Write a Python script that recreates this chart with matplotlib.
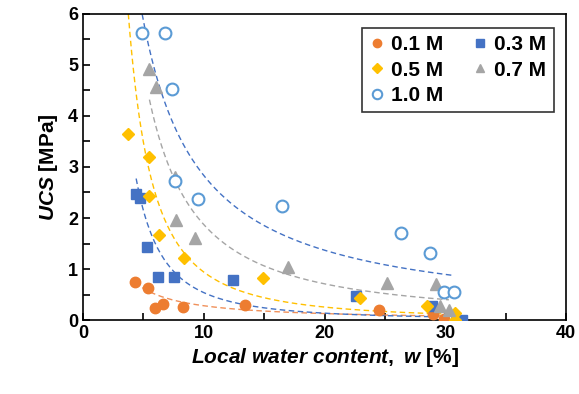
import numpy as np
import matplotlib
matplotlib.use("Agg")
import matplotlib.pyplot as plt

plt.rcParams["font.family"] = "Liberation Sans"
plt.rcParams["font.weight"] = "bold"
plt.rcParams["mathtext.fontset"] = "custom"
plt.rcParams["mathtext.it"] = "Liberation Sans:italic:bold"
plt.rcParams["mathtext.rm"] = "Liberation Sans:bold"

# data
x_01 = [4.3, 5.4, 6.0, 6.6, 8.3, 13.4, 24.5, 29.0, 29.9]
y_01 = [0.75, 0.62, 0.23, 0.31, 0.26, 0.29, 0.20, 0.11, 0.01]
x_03 = [4.4, 4.7, 5.3, 6.2, 7.5, 12.4, 22.6, 28.9, 31.4]
y_03 = [2.48, 2.40, 1.44, 0.85, 0.84, 0.78, 0.47, 0.27, 0.0]
x_05 = [3.75, 5.5, 5.5, 6.3, 8.4, 14.9, 22.9, 28.5, 30.8, 30.8]
y_05 = [3.64, 3.20, 2.43, 1.67, 1.21, 0.83, 0.43, 0.28, 0.14, 0.0]
x_07 = [5.5, 6.05, 7.6, 7.7, 9.3, 17.0, 25.2, 29.2, 29.6, 30.3]
y_07 = [4.93, 4.56, 2.81, 1.96, 1.60, 1.03, 0.72, 0.71, 0.27, 0.20]
x_10 = [4.9, 6.8, 7.35, 7.6, 9.55, 16.5, 26.3, 28.7, 29.9, 30.7]
y_10 = [5.62, 5.62, 4.52, 2.73, 2.37, 2.24, 1.70, 1.31, 0.54, 0.54]

# power-law trend lines (a * x^b)
fit_a = {"0.1 M": 3.95, "0.3 M": 53.7, "0.5 M": 73.0, "0.7 M": 47.0, "1.0 M": 31.8}
fit_b = {"0.1 M": -1.15, "0.3 M": -2.0, "0.5 M": -1.89, "0.7 M": -1.40, "1.0 M": -1.05}

fig = plt.figure(figsize=(5.79, 3.94), dpi=100)
ax = fig.add_axes([0.1434, 0.1878, 0.8341, 0.7767])

series = [
    ("0.1 M", x_01, y_01, dict(marker="o", color="#ED7D31", ms=7.5), "#F0905A"),
    ("0.3 M", x_03, y_03, dict(marker="s", color="#4472C4", ms=7.5), "#4472C4"),
    ("0.5 M", x_05, y_05, dict(marker="D", color="#FFC000", ms=6.2), "#FFC000"),
    ("0.7 M", x_07, y_07, dict(marker="^", color="#A5A5A5", ms=8), "#A5A5A5"),
    ("1.0 M", x_10, y_10, dict(marker="o", mfc="white", mec="#5B9BD5", mew=1.5, ms=8.5), "#4472C4"),
]

handles = {}
for name, xs, ys, style, lc in series:
    xx = np.linspace(min(xs), max(xs), 200)
    ax.plot(xx, fit_a[name] * xx ** fit_b[name], ls=(0, (4, 2.5)), color=lc, lw=1.0, zorder=2)
    h, = ax.plot(xs, ys, ls="none", label=name, zorder=3, **style)
    handles[name] = h

ax.set_xlim(0, 40)
ax.set_ylim(0, 6)
ax.set_xticks([0, 10, 20, 30, 40])
ax.set_xticks(np.arange(0, 41, 5), minor=True)
ax.set_yticks(range(7))
ax.set_yticks(np.arange(0, 6.01, 0.5), minor=True)
ax.tick_params(which="both", direction="in", labelsize=13, width=1.2)
ax.tick_params(which="major", length=5)
ax.tick_params(which="minor", length=5)
for lab in ax.get_xticklabels() + ax.get_yticklabels():
    lab.set_fontweight("bold")
for s in ax.spines.values():
    s.set_linewidth(1.2)

ax.set_xlabel(r"$Local\ water\ content,\ w$ [%]", fontsize=15, fontweight="bold", labelpad=3)
ax.set_ylabel(r"$UCS$ [MPa]", fontsize=15, fontweight="bold", labelpad=6)

order = ["0.1 M", "0.5 M", "1.0 M", "0.3 M", "0.7 M"]
leg = ax.legend([handles[k] for k in order], order, ncol=2, loc="upper right",
                bbox_to_anchor=(0.975, 0.954), borderaxespad=0,
                prop=dict(family="Liberation Sans", weight="bold", size=15),
                frameon=True, fancybox=False,
                edgecolor="black", handlelength=0.7, handletextpad=0.35, columnspacing=1.4,
                labelspacing=0.3, borderpad=0.35, markerscale=0.8)
leg.get_frame().set_linewidth(1.2)

fig.savefig("out.png", dpi=100)
